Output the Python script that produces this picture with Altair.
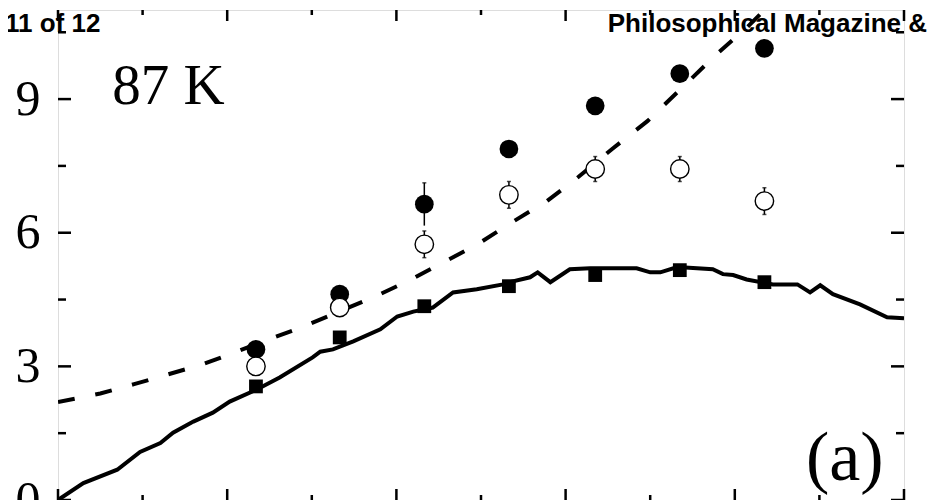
import altair as alt
import pandas as pd

# ---- data ----
col_x = [2.34, 3.33, 4.33, 5.33, 6.35, 7.35, 8.35]
squares = [2.55, 3.65, 4.35, 4.80, 5.05, 5.16, 4.89]
filled = [3.38, 4.62, 6.64, 7.88, 8.85, 9.57, 10.14]
filled_err = [0.0, 0.0, 0.48, 0.0, 0.0, 0.0, 0.0]
open_c = [3.00, 4.32, 5.74, 6.85, 7.43, 7.43, 6.71]
open_err = [0.0, 0.0, 0.30, 0.30, 0.28, 0.28, 0.30]

solid_x = [0.0, 0.30, 0.70, 0.97, 1.21, 1.36, 1.60, 1.83, 2.03, 2.35, 2.62, 3.01, 3.10,
           3.25, 3.49, 3.81, 4.01, 4.20, 4.43, 4.67, 4.95, 5.26, 5.34, 5.58, 5.67, 5.82,
           6.05, 6.29, 6.84, 7.00, 7.12, 7.32, 7.74, 7.86, 7.98, 8.14, 8.45, 8.74, 8.89,
           9.01, 9.16, 9.48, 9.80, 10.0]
solid_y = [0.0, 0.38, 0.68, 1.08, 1.28, 1.51, 1.76, 1.96, 2.21, 2.48, 2.75, 3.20, 3.33,
           3.38, 3.56, 3.83, 4.12, 4.23, 4.32, 4.66, 4.73, 4.84, 4.89, 5.00, 5.11, 4.89,
           5.18, 5.20, 5.20, 5.11, 5.11, 5.23, 5.18, 5.07, 5.05, 4.95, 4.84, 4.84, 4.66,
           4.82, 4.62, 4.39, 4.10, 4.08]

dash_x = [0.0, 0.5, 0.9, 1.3, 1.7, 2.03, 2.33, 2.91, 3.75, 4.13, 4.54, 4.96, 5.31,
          5.78, 6.15, 6.55, 6.97, 7.39, 7.77, 8.15, 8.35]
dash_y = [2.20, 2.39, 2.60, 2.82, 3.04, 3.27, 3.49, 3.90, 4.57, 4.91, 5.32, 5.74, 6.17,
          6.71, 7.25, 7.88, 8.51, 9.28, 9.98, 10.62, 11.0]

y_major = [0, 3, 6, 9]
y_minor = [1.5, 4.5, 7.5, 10.5]
x_major = [0, 2, 4, 6, 8, 10]
x_minor = [1, 3, 5, 7, 9]

W, H = 846, 490
xs = alt.Scale(domain=[0, 10], nice=False, zero=False)
ys = alt.Scale(domain=[0, 11], nice=False, zero=False)

pts = pd.DataFrame({"x": col_x, "sq": squares, "fc": filled, "fe": filled_err,
                    "oc": open_c, "oe": open_err})
pts["fc_lo"] = pts.fc - pts.fe
pts["fc_hi"] = pts.fc + pts.fe
pts["oc_lo"] = pts.oc - pts.oe
pts["oc_hi"] = pts.oc + pts.oe
solid = pd.DataFrame({"x": solid_x, "y": solid_y})
dash = pd.DataFrame({"x": dash_x, "y": dash_y})

X = alt.X("x:Q", scale=xs, axis=alt.Axis(labels=False, ticks=False, domain=False,
                                          grid=False, title=None))
Y_axis = alt.Axis(values=y_major, ticks=False, domain=False, grid=False, title=None,
                  labelFont="Liberation Serif", labelFontSize=50, labelColor="black",
                  labelPadding=18, labelFlush=False, labelOverlap=False, labelBound=False)

dash_line = alt.Chart(dash).mark_line(color="black", strokeWidth=4, strokeDash=[17, 21],
                                      clip=True).encode(
    x=X, y=alt.Y("y:Q", scale=ys, axis=Y_axis))
solid_line = alt.Chart(solid).mark_line(color="black", strokeWidth=4, clip=True).encode(
    x=X, y=alt.Y("y:Q", scale=ys))

f_err = alt.Chart(pts[pts.fe > 0]).mark_rule(color="black", strokeWidth=1.5).encode(
    x=X, y=alt.Y("fc_lo:Q", scale=ys), y2="fc_hi:Q")
o_err = alt.Chart(pts[pts.oe > 0]).mark_rule(color="black", strokeWidth=1.5).encode(
    x=X, y=alt.Y("oc_lo:Q", scale=ys), y2="oc_hi:Q")
o_cap_hi = alt.Chart(pts[pts.oe > 0]).mark_tick(color="black", thickness=1.5, size=4,
                                               orient="horizontal").encode(
    x=X, y=alt.Y("oc_hi:Q", scale=ys))
o_cap_lo = alt.Chart(pts[pts.oe > 0]).mark_tick(color="black", thickness=1.5, size=4,
                                               orient="horizontal").encode(
    x=X, y=alt.Y("oc_lo:Q", scale=ys))
f_cap = alt.Chart(pts[pts.fe > 0]).mark_tick(color="black", thickness=1.5, size=4,
                                            orient="horizontal").encode(
    x=X, y=alt.Y("fc_hi:Q", scale=ys))

sq = alt.Chart(pts).mark_square(color="black", opacity=1, size=190).encode(
    x=X, y=alt.Y("sq:Q", scale=ys))
fc = alt.Chart(pts).mark_circle(color="black", opacity=1, size=350).encode(
    x=X, y=alt.Y("fc:Q", scale=ys))
oc = alt.Chart(pts).mark_point(shape="circle", fill="white", filled=False, stroke="black",
                               strokeWidth=1.4, opacity=1, fillOpacity=1, size=340).encode(
    x=X, y=alt.Y("oc:Q", scale=ys))

# inward ticks
def vticks(vals, x0, x1):
    d = pd.DataFrame({"v": vals})
    return alt.Chart(d).mark_rule(color="black", strokeWidth=2.5).encode(
        y=alt.Y("v:Q", scale=ys), x=alt.value(x0), x2=alt.value(x1))

def hticks(vals, y0, y1):
    d = pd.DataFrame({"v": vals})
    return alt.Chart(d).mark_rule(color="black", strokeWidth=2.5).encode(
        x=alt.X("v:Q", scale=xs), y=alt.value(y0), y2=alt.value(y1))

ticks = [
    vticks(y_major, 0, 13), vticks(y_minor, 0, 8),
    vticks(y_major, W, W - 13), vticks(y_minor, W, W - 8),
    hticks(x_major, H, H - 11), hticks(x_minor, H, H - 5),
    hticks(x_major, 0, 11), hticks(x_minor, 0, 5),
]

temp_lbl = alt.Chart(pd.DataFrame({"x": [0.64], "y": [8.9], "t": ["87 K"]})).mark_text(
    font="Liberation Serif", fontSize=57, align="left", baseline="alphabetic",
    color="black").encode(x=X, y=alt.Y("y:Q", scale=ys), text="t:N")
panel_lbl = alt.Chart(pd.DataFrame({"x": [9.3], "y": [0.45], "t": ["(a)"]})).mark_text(
    font="Liberation Serif", fontSize=70, align="center", baseline="alphabetic",
    color="black").encode(x=X, y=alt.Y("y:Q", scale=ys), text="t:N")

hdr_left = alt.Chart(pd.DataFrame({"t": ["11 of 12"]})).mark_text(
    font="Liberation Sans", fontWeight="bold", fontSize=26, align="left",
    baseline="alphabetic", color="black").encode(
    x=alt.value(-53), y=alt.value(22), text="t:N")
hdr_right = alt.Chart(pd.DataFrame({"t": ["Philosophical Magazine &"]})).mark_text(
    font="Liberation Sans", fontWeight="bold", fontSize=26, align="right",
    baseline="alphabetic", color="black").encode(
    x=alt.value(869), y=alt.value(22), text="t:N")

chart = alt.layer(
    dash_line, solid_line, f_err, f_cap, fc, o_err, o_cap_hi, o_cap_lo, oc, sq,
    *ticks, temp_lbl, panel_lbl, hdr_left, hdr_right
).properties(
    width=W, height=H,
    autosize=alt.AutoSizeParams(type="none"),
    padding={"left": 50, "top": 2, "right": 23, "bottom": 0},
).configure_view(
    stroke="black", strokeWidth=2.5
).configure(background="white")

chart.save("out.html", embed_options={"renderer": "svg", "actions": False})
